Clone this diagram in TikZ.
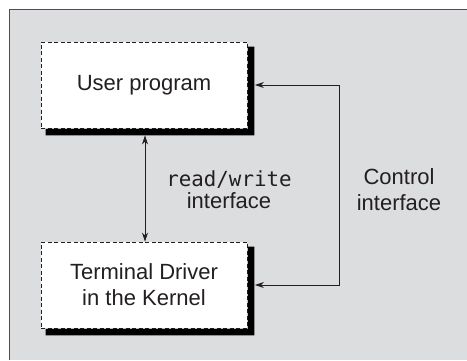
\documentclass[tikz,border=0pt]{standalone}
\usepackage{fontspec}
\setmainfont{Liberation Sans}
\newfontfamily\codefont{DejaVu Sans Mono}
\usetikzlibrary{arrows.meta}
\definecolor{bggray}{HTML}{DCDDDF}
\definecolor{ink}{HTML}{231F20}
\definecolor{framecol}{HTML}{4D4D4F}
\tikzset{
  x=1pt, y=1pt,
  procbox/.style={draw=ink, fill=white, dash pattern=on 4pt off 2.5pt, line width=0.9pt,
    minimum width=206pt, minimum height=86pt, inner sep=0pt, align=center, text=ink,
    font=\fontsize{22}{26}\selectfont},
  shadowfill/.style={fill=black, draw=none},
  arr/.style={draw=ink, line width=0.8pt, -{Stealth[length=9pt,width=6pt]}},
  darr/.style={draw=ink, line width=0.8pt, {Stealth[length=9pt,width=6pt]}-{Stealth[length=9pt,width=6pt]}},
  lbl/.style={align=center, text=ink, font=\fontsize{22}{26}\selectfont, inner sep=0pt},
  codelbl/.style={align=center, text=ink, inner sep=0pt}
}
\begin{document}
\begin{tikzpicture}
\useasboundingbox (0,0) rectangle (467,-360);
% background panel
\fill[bggray] (9.5,-9.5) rectangle (467,-360);
\draw[framecol, line width=1.6pt] (9.5,-360) -- (9.5,-9.5) -- (467,-9.5);
% boxes
\node[procbox] (user) at (144,-85) {User program};
\node[procbox] (term) at (144,-285) {Terminal Driver\\in the Kernel};
% shadows (bottom and right edges, outside the boxes)
\fill[shadowfill] ([shift={(5,-0.5)}]user.south west) -- ([shift={(0.5,-0.5)}]user.south east) -- ([shift={(0.5,-5)}]user.north east)
  -- ([shift={(7,-5)}]user.north east) -- ([shift={(7,-7)}]user.south east) -- ([shift={(5,-7)}]user.south west) -- cycle;
\fill[shadowfill] ([shift={(5,-0.5)}]term.south west) -- ([shift={(0.5,-0.5)}]term.south east) -- ([shift={(0.5,-5)}]term.north east)
  -- ([shift={(7,-5)}]term.north east) -- ([shift={(7,-7)}]term.south east) -- ([shift={(5,-7)}]term.south west) -- cycle;
% read/write connector
\draw[darr] ([xshift=1pt,yshift=-7pt]user.south) -- ([xshift=1pt]term.north);
\node[codelbl] (rwlabel) at (229,-190) {{\codefont\fontsize{20.8}{25}\selectfont read/write}\\[3pt]{\fontsize{22}{25}\selectfont interface}};
% control connector
\coordinate (ctl) at (339,-185);
\draw[arr] (ctl) |- ([xshift=7.5pt]user.east);
\draw[arr] (ctl) |- ([xshift=7.5pt]term.east);
\node[lbl] (ctllabel) at (399,-190) {Control\\interface};
\end{tikzpicture}
\end{document}
